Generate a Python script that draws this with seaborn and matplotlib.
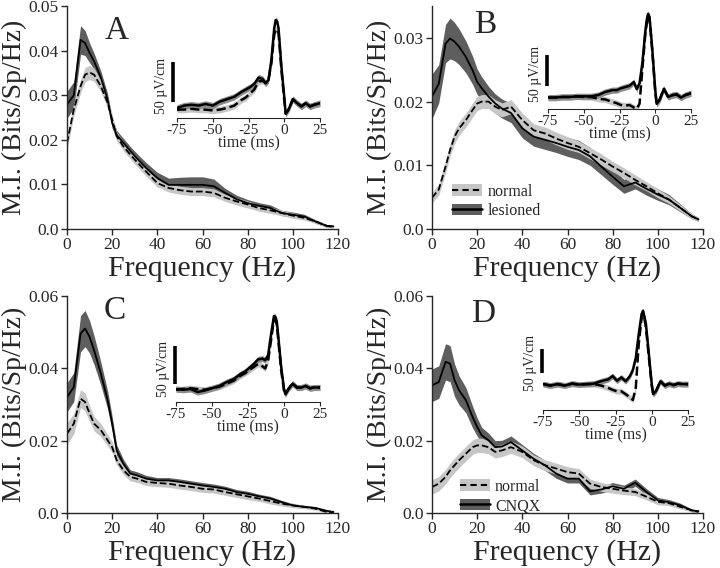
import matplotlib
matplotlib.use("Agg")
import matplotlib.pyplot as plt
from matplotlib.patches import Patch
from matplotlib.lines import Line2D
import numpy as np
import seaborn as sns

# ---- mutual information spectra (Bits/Sp/Hz) ----
FREQ = [0, 3, 6, 8, 10, 12, 15, 18, 20, 22, 25, 28, 31, 35, 40, 45, 50, 55,
        60, 65, 70, 75, 80, 85, 90, 95, 100, 105, 110, 115, 118]

A_norm = [0.0193, 0.0268, 0.0320, 0.0346, 0.0351, 0.0346, 0.0320, 0.0283, 0.0245, 0.0208, 0.0185,
          0.0167, 0.0150, 0.0129, 0.0103, 0.0092, 0.0087, 0.0084, 0.0084, 0.0081, 0.0070, 0.0062,
          0.0055, 0.0047, 0.0042, 0.0036, 0.0030, 0.0025, 0.0017, 0.0007, 0.0004]
A_norm_err = [0.0015, 0.0015, 0.0015, 0.0016, 0.0016, 0.0015, 0.0013, 0.0012, 0.0011, 0.0010, 0.0010,
              0.0010, 0.0010, 0.0010, 0.0009, 0.0009, 0.0009, 0.0009, 0.0009, 0.0009, 0.0008, 0.0008,
              0.0008, 0.0007, 0.0007, 0.0006, 0.0006, 0.0005, 0.0004, 0.0003, 0.0002]
A_les = [0.0279, 0.0300, 0.0424, 0.0417, 0.0395, 0.0376, 0.0339, 0.0290, 0.0238, 0.0211, 0.0193,
         0.0175, 0.0158, 0.0137, 0.0114, 0.0099, 0.0099, 0.0099, 0.0099, 0.0096, 0.0081, 0.0067,
         0.0058, 0.0052, 0.0047, 0.0036, 0.0032, 0.0028, 0.0017, 0.0007, 0.0006]
A_les_err = [0.0030, 0.0030, 0.0032, 0.0028, 0.0022, 0.0018, 0.0015, 0.0013, 0.0012, 0.0010, 0.0010,
             0.0010, 0.0011, 0.0012, 0.0013, 0.0015, 0.0017, 0.0018, 0.0018, 0.0016, 0.0010, 0.0009,
             0.0008, 0.0007, 0.0007, 0.0006, 0.0006, 0.0005, 0.0004, 0.0003, 0.0002]

B_norm = [0.0049, 0.0062, 0.0098, 0.0124, 0.0145, 0.0158, 0.0171, 0.0187, 0.0197, 0.0200, 0.0200,
          0.0192, 0.0187, 0.0192, 0.0171, 0.0155, 0.0150, 0.0142, 0.0135, 0.0129, 0.0119, 0.0109,
          0.0098, 0.0088, 0.0077, 0.0067, 0.0056, 0.0046, 0.0033, 0.0020, 0.0015]
B_norm_err = [0.0008, 0.0009, 0.0010, 0.0010, 0.0011, 0.0011, 0.0011, 0.0011, 0.0011, 0.0011, 0.0011,
              0.0011, 0.0011, 0.0011, 0.0011, 0.0010, 0.0010, 0.0010, 0.0010, 0.0009, 0.0009, 0.0009,
              0.0008, 0.0008, 0.0008, 0.0007, 0.0007, 0.0006, 0.0005, 0.0004, 0.0003]
B_les = [0.0208, 0.0228, 0.0291, 0.0299, 0.0294, 0.0286, 0.0270, 0.0249, 0.0231, 0.0221, 0.0208,
         0.0197, 0.0189, 0.0182, 0.0158, 0.0145, 0.0140, 0.0135, 0.0129, 0.0124, 0.0114, 0.0098,
         0.0082, 0.0067, 0.0073, 0.0063, 0.0054, 0.0046, 0.0033, 0.0020, 0.0015]
B_les_err = [0.0035, 0.0030, 0.0030, 0.0032, 0.0030, 0.0028, 0.0025, 0.0022, 0.0020, 0.0018, 0.0016,
             0.0015, 0.0015, 0.0015, 0.0015, 0.0015, 0.0015, 0.0015, 0.0015, 0.0015, 0.0014, 0.0013,
             0.0012, 0.0011, 0.0010, 0.0010, 0.0009, 0.0008, 0.0006, 0.0004, 0.0003]

C_norm = [0.0219, 0.0247, 0.0316, 0.0307, 0.0275, 0.0247, 0.0229, 0.0201, 0.0182, 0.0146, 0.0118,
          0.0100, 0.0095, 0.0086, 0.0083, 0.0081, 0.0076, 0.0072, 0.0067, 0.0065, 0.0058, 0.0052,
          0.0046, 0.0040, 0.0033, 0.0026, 0.0021, 0.0017, 0.0012, 0.0003, 0.0000]
C_norm_err = [0.0030, 0.0028, 0.0025, 0.0025, 0.0022, 0.0020, 0.0018, 0.0016, 0.0015, 0.0013, 0.0012,
              0.0011, 0.0010, 0.0010, 0.0010, 0.0010, 0.0010, 0.0010, 0.0010, 0.0010, 0.0009, 0.0009,
              0.0009, 0.0008, 0.0008, 0.0007, 0.0006, 0.0005, 0.0004, 0.0003, 0.0002]
C_les = [0.0320, 0.0348, 0.0496, 0.0510, 0.0487, 0.0450, 0.0385, 0.0312, 0.0247, 0.0173, 0.0136,
         0.0109, 0.0104, 0.0095, 0.0090, 0.0090, 0.0086, 0.0081, 0.0076, 0.0072, 0.0067, 0.0058,
         0.0053, 0.0046, 0.0040, 0.0030, 0.0021, 0.0017, 0.0014, 0.0006, 0.0003]
C_les_err = [0.0040, 0.0040, 0.0050, 0.0050, 0.0045, 0.0040, 0.0032, 0.0025, 0.0020, 0.0015, 0.0012,
             0.0010, 0.0010, 0.0009, 0.0008, 0.0008, 0.0008, 0.0008, 0.0008, 0.0008, 0.0007, 0.0007,
             0.0007, 0.0006, 0.0006, 0.0005, 0.0005, 0.0004, 0.0003, 0.0002, 0.0002]

D_norm = [0.0072, 0.0081, 0.0100, 0.0118, 0.0132, 0.0146, 0.0164, 0.0182, 0.0187, 0.0187, 0.0182,
          0.0169, 0.0173, 0.0182, 0.0169, 0.0146, 0.0132, 0.0123, 0.0113, 0.0109, 0.0081, 0.0072,
          0.0067, 0.0062, 0.0058, 0.0045, 0.0031, 0.0027, 0.0017, 0.0008, 0.0003]
D_norm_err = [0.0020, 0.0020, 0.0020, 0.0020, 0.0020, 0.0020, 0.0020, 0.0020, 0.0020, 0.0020, 0.0018,
              0.0017, 0.0017, 0.0017, 0.0016, 0.0015, 0.0015, 0.0015, 0.0015, 0.0014, 0.0013, 0.0012,
              0.0012, 0.0011, 0.0010, 0.0009, 0.0008, 0.0007, 0.0006, 0.0004, 0.0003]
D_cnqx = [0.0353, 0.0362, 0.0418, 0.0413, 0.0367, 0.0339, 0.0312, 0.0265, 0.0238, 0.0215, 0.0201,
          0.0182, 0.0184, 0.0196, 0.0173, 0.0150, 0.0132, 0.0109, 0.0095, 0.0095, 0.0060, 0.0065,
          0.0074, 0.0067, 0.0084, 0.0058, 0.0035, 0.0030, 0.0021, 0.0007, 0.0005]
D_cnqx_err = [0.0045, 0.0045, 0.0050, 0.0050, 0.0045, 0.0040, 0.0035, 0.0030, 0.0025, 0.0022, 0.0020,
              0.0018, 0.0017, 0.0017, 0.0016, 0.0015, 0.0014, 0.0013, 0.0012, 0.0012, 0.0010, 0.0010,
              0.0010, 0.0010, 0.0010, 0.0009, 0.0008, 0.0007, 0.0006, 0.0004, 0.0003]

# ---- spike-triggered averages in the insets (uV/cm) ----
T = [-75, -70, -65, -60, -55, -50, -45, -40, -35, -30, -27, -24, -21, -18, -15, -13, -11,
     -9, -7, -6, -5, -4, -2, 0, 1, 3, 6, 9, 12, 15, 18, 21, 25]

A_sta_les = [0, 3, 4, 3, 5, 3, 8, 11, 14, 20, 23, 26, 30, 38, 36, 31, 35,
             60, 100, 110, 108, 100, 52, 14, -7, -2, 11, 6, 2, 6, 2, 4, 6]
A_sta_norm = [-2, -2, -1, -2, -2, -3, -2, 0, 3, 10, 13, 18, 23, 33, 34, 31, 36,
              56, 92, 98, 98, 94, 48, 10, -7, -2, 11, 6, 2, 6, 2, 4, 6]
B_sta_les = [-1, -1, 0, 0, 1, 1, 1, 3, 8, 11, 11, 14, 16, 18, 24, 13, 22,
             55, 105, 124, 134, 129, 75, 11, -11, -5, 13, 0, 3, 4, -1, 3, 6]
B_sta_norm = [-1, -1, 0, 0, 1, 0, 0, -3, -4, -8, -10, -13, -14, -13, -17, -19, -11,
              45, 100, 118, 132, 126, 72, 8, -11, -5, 13, 0, 3, 4, -1, 3, 6]
C_sta_les = [0, -1, 0, -4, -2, 1, 4, 9, 13, 20, 23, 28, 33, 39, 40, 38, 45,
             72, 96, 95, 89, 70, 30, 0, -7, 0, 7, 2, 2, 4, 1, 2, 2]
C_sta_norm = [-1, 0, 1, 0, -1, 1, 3, 7, 11, 18, 21, 25, 29, 33, 30, 27, 38,
              64, 92, 90, 85, 65, 25, -2, -7, 0, 7, 2, 2, 4, 1, 2, 2]
D_sta_cnqx = [0, -3, 0, -3, 1, -1, 0, 1, 6, 10, 17, 7, 14, 6, 17, 30, 55,
              104, 146, 153, 140, 125, 63, 0, -21, -14, 6, -3, 1, -2, 1, 0, 0]
D_sta_norm = [0, -3, 0, -3, 1, -1, 0, 0, -3, -8, -12, -15, -15, -21, -28, -33, -7,
              83, 139, 146, 135, 118, 56, -3, -21, -14, 6, -3, 1, -2, 1, 0, 0]
STA_SEM = [4, 5, 4, 6]

sns.set_style("ticks")
plt.rcParams["font.family"] = ["Liberation Serif", "DejaVu Serif"]

DARK = "#5e5e5e"
LIGHT = "#c6c6c6"
MID = "#8c8c8c"

fig = plt.figure(figsize=(7.2, 5.68), dpi=100)


def spectrum(rect, norm, norm_err, treat, treat_err, ymax, yticks, ylabels):
    ax = fig.add_axes(rect)
    f = np.array(FREQ)
    n, ne = np.array(norm), np.array(norm_err)
    t, te = np.array(treat), np.array(treat_err)
    ax.fill_between(f, t - te, t + te, color=DARK, lw=0)
    ax.fill_between(f, n - ne, n + ne, color=LIGHT, lw=0)
    sns.lineplot(x=f, y=n, ax=ax, color="k", lw=1.3, dashes=(3, 2), linestyle="--")
    sns.lineplot(x=f, y=t, ax=ax, color="k", lw=1.3)
    ax.set_xlim(0, 120)
    ax.set_ylim(0, ymax)
    ax.set_xticks([0, 20, 40, 60, 80, 100, 120])
    ax.set_yticks(yticks)
    ax.set_yticklabels(ylabels)
    ax.tick_params(labelsize=12.5, direction="out", length=4, width=1, pad=2)
    ax.set_xlabel("Frequency (Hz)", fontsize=21.5, labelpad=1)
    ax.set_ylabel("M.I. (Bits/Sp/Hz)", fontsize=20, labelpad=1)
    sns.despine(ax=ax)
    for s in ax.spines.values():
        s.set_linewidth(1.0)
    return ax


def sta_inset(rect, sol, dash, sem, ylim, bar_x, bar_y0):
    ax = fig.add_axes(rect)
    t = np.array(T)
    s, d = np.array(sol), np.array(dash)
    ax.fill_between(t, d - sem, d + sem, color=LIGHT, lw=0)
    ax.fill_between(t, s - sem, s + sem, color=MID, lw=0)
    sns.lineplot(x=t, y=d, ax=ax, color="k", lw=1.8, dashes=(3, 1.5), linestyle="--")
    sns.lineplot(x=t, y=s, ax=ax, color="k", lw=1.8)
    ax.set_xlim(-75, 25)
    ax.set_ylim(*ylim)
    ax.set_yticks([])
    ax.set_xticks([-75, -50, -25, 0, 25])
    ax.set_xticklabels(["-75", "-50", "-25", "0", "25"])
    ax.tick_params(axis="x", labelsize=11, direction="out", length=3, width=0.8, pad=1)
    ax.set_xlabel("time (ms)", fontsize=11.5, labelpad=-1)
    for side in ["left", "top", "right"]:
        ax.spines[side].set_visible(False)
    ax.spines["bottom"].set_linewidth(0.8)
    ax.patch.set_alpha(0)
    ax.plot([bar_x, bar_x], [bar_y0, bar_y0 + 50], color="k", lw=2.6,
            solid_capstyle="butt", clip_on=False)
    ax.annotate("50 \u00b5V/cm", xy=(bar_x, bar_y0 + 20), xytext=(-4, 0),
                textcoords="offset points", rotation=90, ha="right", va="center",
                fontsize=10, annotation_clip=False)
    return ax


def legend(ax, treat_label, anchor):
    handles = [(Patch(fc=LIGHT, ec="none"), Line2D([], [], color="k", lw=1.5, ls=(0, (3, 2)))),
               (Patch(fc=DARK, ec="none"), Line2D([], [], color="k", lw=1.8))]
    ax.legend(handles, ["normal", treat_label], loc="lower left", bbox_to_anchor=anchor,
              frameon=False, fontsize=11.5, handlelength=1.9, handleheight=0.75,
              handletextpad=0.3, labelspacing=0.2, borderpad=0, borderaxespad=0)


W, H = 720.0, 568.0


def px(l, t, r, b):
    return [l / W, 1 - b / H, (r - l) / W, (b - t) / H]


axA = spectrum(px(67, 6, 338, 229), A_norm, A_norm_err, A_les, A_les_err, 0.05,
               [0, 0.01, 0.02, 0.03, 0.04, 0.05], ["0.0", "0.01", "0.02", "0.03", "0.04", "0.05"])
axB = spectrum(px(432, 6, 703, 229), B_norm, B_norm_err, B_les, B_les_err, 0.035,
               [0, 0.01, 0.02, 0.03], ["0.0", "0.01", "0.02", "0.03"])
axC = spectrum(px(67, 296, 338, 513), C_norm, C_norm_err, C_les, C_les_err, 0.06,
               [0, 0.02, 0.04, 0.06], ["0.0", "0.02", "0.04", "0.06"])
axD = spectrum(px(432, 296, 703, 513), D_norm, D_norm_err, D_cnqx, D_cnqx_err, 0.06,
               [0, 0.02, 0.04, 0.06], ["0.0", "0.02", "0.04", "0.06"])

legend(axB, "lesioned", (0.074, 0.045))
legend(axD, "CNQX", (0.103, -0.005))

sta_inset(px(177, 10, 320, 118), A_sta_les, A_sta_norm, STA_SEM[0], (-12.5, 122.5), -77.5, 7.5)
sta_inset(px(548, 8, 691, 109), B_sta_les, B_sta_norm, STA_SEM[1], (-19.4, 143.5), -75.5, 17.7)
sta_inset(px(176, 307, 320, 402), C_sta_les, C_sta_norm, STA_SEM[2], (-17.1, 108), -75.5, 6.6)
sta_inset(px(543, 305, 688, 410), D_sta_cnqx, D_sta_norm, STA_SEM[3], (-54, 165), -75.5, 23)

for letter, (x, y) in zip("ABCD", [(117, 31), (485, 25), (115, 311), (483, 314)]):
    fig.text(x / W, 1 - y / H, letter, fontsize=24, ha="center", va="center")

fig.savefig("out.png", dpi=100)
